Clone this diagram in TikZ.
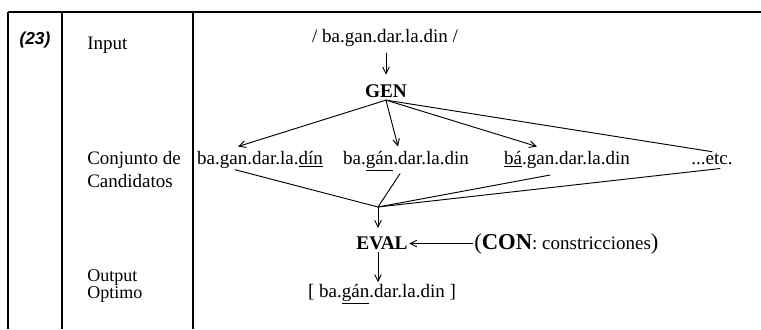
\documentclass[tikz,border=0pt]{standalone}
\usepackage{fontspec}
\setmainfont{Liberation Serif}
\newfontfamily\exfont{Liberation Sans}
\usetikzlibrary{arrows.meta}

\begin{document}
\begin{tikzpicture}[x=0.75pt,y=-0.75pt,
  txt/.style={inner sep=0pt, anchor=base, font=\fontsize{14.25}{16}\selectfont},
  lbl/.style={txt, anchor=base west},
  small/.style={inner sep=0pt, anchor=base west, font=\fontsize{13.5}{15}\selectfont},
  op/.style={inner sep=0pt, anchor=base, font=\fontsize{14.5}{16}\selectfont\bfseries},
  conn/.style={line width=0.7pt, line cap=round},
  arr/.style={conn, -{Straight Barb[length=5pt,width=5pt]}},
  rule/.style={line width=1.1pt}]
\useasboundingbox (0,0) rectangle (761,329);

% table rules
\draw[rule] (8,12) -- (761,12);
\draw[rule] (8,12) -- (8,329);
\draw[line width=1.4pt] (62,12) -- (62,329);
\draw[rule] (193,12) -- (193,329);

% example number and row labels
\node[inner sep=0pt, anchor=base, font=\fontsize{13}{15}\exfont\bfseries\itshape] (num) at (35,44) {(23)};
\node[lbl] (inp) at (87,49) {Input};
\node[lbl] (cjt) at (87,164) {Conjunto de};
\node[lbl] (cnd) at (87,187) {Candidatos};
\node[small] (outl) at (87,281) {Output};
\node[small] (opt) at (87,298) {Optimo};

% input form and generator
\node[txt] (inform) at (385,42) {/ ba.gan.dar.la.din /};
\node[op] (gen) at (386,97) {GEN};

% candidate set
\node[txt] (c1) at (260,164) {ba.gan.dar.la.\underline{dín}};
\node[txt] (c2) at (406,164) {ba.\underline{gán}.dar.la.din};
\node[txt] (c3) at (567,164) {\underline{bá}.gan.dar.la.din};
\node[txt] (etc) at (712,164) {...etc.};

% evaluator, constraints and optimal output
\node[op] (eval) at (382,249) {EVAL};
\node[txt, anchor=base west] (con) at (474,249)
  {{\fontsize{17}{18}\selectfont(\textbf{CON}}: constricciones{\fontsize{17}{18}\selectfont)}};
\node[txt] (out) at (382,297) {[ ba.\underline{gán}.dar.la.din ]};

\coordinate (m) at (378,207);

% input -> GEN
\draw[arr, shorten <=5pt, shorten >=7pt] (inform.south -| gen) -- (gen.north);

% GEN fans out to the candidates
\draw[arr] ([yshift=-2pt]gen.south) -- ([xshift=-16.5pt,yshift=3pt]c1.north);
\draw[arr] ([yshift=-2pt]gen.south) -- ([xshift=-6pt,yshift=3pt]c2.north);
\draw[arr] ([yshift=-2pt]gen.south) -- ([xshift=-22.5pt,yshift=3pt]c3.north);
\draw[conn] ([yshift=-2pt]gen.south) -- ([xshift=0pt,yshift=1pt]etc.north);

% candidates converge on EVAL
\draw[conn] ([xshift=-18.75pt,yshift=-1pt]c1.south) -- (m);
\draw[conn] ([xshift=-4.5pt,yshift=-2pt]c2.south) -- (m);
\draw[conn] ([xshift=-12.75pt,yshift=-5pt]c3.south) -- (m);
\draw[conn] ([xshift=6pt,yshift=-3pt]etc.south) -- (m);
\draw[arr, shorten >=6pt] (m) -- (m |- eval.north);

% constraints feed EVAL
\draw[arr, shorten <=1pt, shorten >=1pt] (con.west) -- (con.west -| eval.east);

% EVAL -> optimal output
\draw[arr, shorten <=2pt, shorten >=1pt] (eval.south -| m) -- (out.north -| m);
\end{tikzpicture}
\end{document}
